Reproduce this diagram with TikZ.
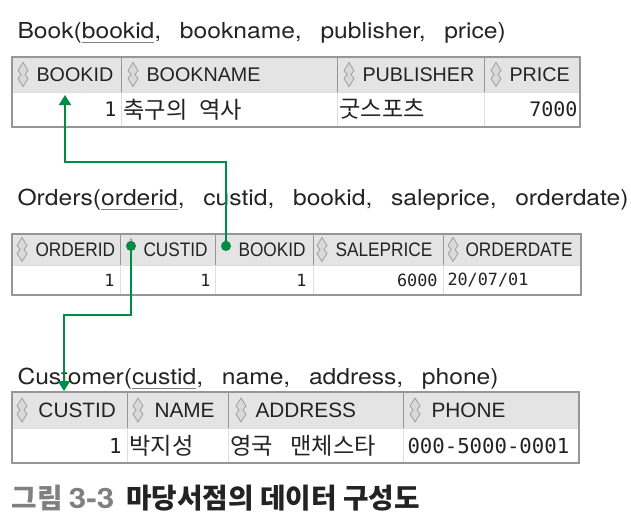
\documentclass[tikz,border=0pt]{standalone}
\usepackage{fontspec}
\setmainfont{TeX Gyre Heros}
\newfontfamily\ttlfont{TeX Gyre Heros}[FakeStretch=1.12]
\newfontfamily\colfont{Liberation Sans}
\newfontfamily\colcfont{Liberation Sans}[FakeStretch=0.88]
\newfontfamily\valfont{DejaVu Sans Mono}
\newfontfamily\korfont{Noto Sans CJK KR}
\usetikzlibrary{arrows.meta}

\definecolor{fkgreen}{RGB}{0,140,70}
\definecolor{hdrfill}{RGB}{228,228,228}
\definecolor{hdrline}{RGB}{150,150,150}
\definecolor{cellline}{RGB}{222,222,222}
\definecolor{txtdark}{RGB}{35,35,35}
\definecolor{capgray}{RGB}{128,128,128}

% gap after a comma in the relation titles
\newcommand{\csep}{,\hspace{14pt}}
% primary key, underlined
\newcommand{\pkey}[1]{\setbox0\hbox{#1}\rlap{\color{gray}\rule[-3.8pt]{\wd0}{0.9pt}}\box0}

\tikzset{every picture/.style={line width=0.75pt}}
\tikzset{
  hcell/.style={fill=hdrfill, draw=hdrline},
  dcell/.style={fill=white, draw=cellline},
  tblbox/.style={draw=hdrline, line width=1.1pt},
  ttl/.style={anchor=base west, inner sep=0pt, text=txtdark, font=\ttlfont\fontsize{16.5}{20}\selectfont},
  hbig/.style={anchor=west, inner sep=0.75pt, text=txtdark, font=\colfont\fontsize{14.8}{18}\selectfont},
  hbigc/.style={anchor=west, inner sep=0.75pt, text=txtdark, font=\colfont\fontsize{15.6}{18}\selectfont},
  hsmall/.style={anchor=west, inner sep=0.75pt, text=txtdark, font=\colcfont\fontsize{14.7}{18}\selectfont},
  vbig/.style={anchor=east, inner sep=0.75pt, text=txtdark, font=\valfont\fontsize{15}{18}\selectfont},
  vbigc/.style={anchor=west, inner sep=0.75pt, text=txtdark, font=\valfont\fontsize{15.5}{18}\selectfont},
  vsmall/.style={anchor=east, inner sep=0.75pt, text=txtdark, font=\valfont\fontsize{12.6}{15}\selectfont},
  kval/.style={anchor=west, inner sep=0.75pt, text=txtdark, font=\korfont\fontsize{17.4}{20}\selectfont},
  fk/.style={draw=fkgreen, line width=1.5pt},
  fkarrow/.style={fk, -{Triangle[width=9pt,length=7.5pt]}},
  fkdot/.style={circle, fill=fkgreen, inner sep=0pt, minimum size=7.5pt},
  sorticon/.pic={\path[fill=gray!30, draw=gray!75, line width=0.6pt] (0,-12) -- (5,-4) -- (2,0) -- (5,4) -- (0,12) -- (-5,4) -- (-2,0) -- (-5,-4) -- cycle;},
  sortdown/.pic={\path[fill=gray!30, draw=gray!75, line width=0.6pt] (-4,3) -- (4,3) -- (0,11) -- cycle;}
}

\begin{document}
\begin{tikzpicture}[x=0.75pt,y=0.75pt,yscale=-1,xscale=1]
	%set diagram left start at 0, and has height of 529
	\path[use as bounding box] (0,0) rectangle (631,529);
	
	% Text Node
	\draw (17,38.3) node (t-book) [ttl] {Book(\pkey{bookid}\csep bookname\csep publisher\csep price)};
	
	%Shape: Rectangle
	\draw[hcell] (12,57) rectangle (121,92);
	%Shape: Rectangle
	\draw[hcell] (121,57) rectangle (337,92);
	%Shape: Rectangle
	\draw[hcell] (337,57) rectangle (484,92);
	%Shape: Rectangle
	\draw[hcell] (484,57) rectangle (580,92);
	%Shape: Rectangle
	\draw[dcell] (12,92) rectangle (121,127);
	%Shape: Rectangle
	\draw[dcell] (121,92) rectangle (337,127);
	%Shape: Rectangle
	\draw[dcell] (337,92) rectangle (484,127);
	%Shape: Rectangle
	\draw[dcell] (484,92) rectangle (580,127);
	%Shape: Rectangle
	\draw[tblbox] (12,57) rectangle (580,127);
	
	\pic at (23,74.5) {sorticon};
	\pic at (133,74.5) {sorticon};
	\pic at (349,74.5) {sorticon};
	\pic at (496,74.5) {sorticon};
	% Text Node
	\draw (35,74.5) node (b-bookid) [hbig] {BOOKID};
	% Text Node
	\draw (145,74.5) node (b-bookname) [hbig] {BOOKNAME};
	% Text Node
	\draw (361,74.5) node (b-publisher) [hbig] {PUBLISHER};
	% Text Node
	\draw (508,74.5) node (b-price) [hbig] {PRICE};
	% Text Node
	\draw (118,109.5) node (b-v1) [vbig] {1};
	% Text Node
	\draw (122,109.5) node (b-v2) [kval] {축구의\hspace{5pt} 역사};
	% Text Node
	\draw (338,109.5) node (b-v3) [kval] {굿스포츠};
	% Text Node
	\draw (579,109.5) node (b-v4) [vbig] {7000};
	
	% Text Node
	\draw (17,205) node (t-orders) [ttl] {Orders(\pkey{orderid}\csep custid\csep bookid\csep saleprice\csep orderdate)};
	
	%Shape: Rectangle
	\draw[hcell] (12,234) rectangle (120,265);
	%Shape: Rectangle
	\draw[hcell] (120,234) rectangle (215,265);
	%Shape: Rectangle
	\draw[hcell] (215,234) rectangle (313,265);
	%Shape: Rectangle
	\draw[hcell] (313,234) rectangle (443,265);
	%Shape: Rectangle
	\draw[hcell] (443,234) rectangle (581,265);
	%Shape: Rectangle
	\draw[dcell] (12,265) rectangle (120,295);
	%Shape: Rectangle
	\draw[dcell] (120,265) rectangle (215,295);
	%Shape: Rectangle
	\draw[dcell] (215,265) rectangle (313,295);
	%Shape: Rectangle
	\draw[dcell] (313,265) rectangle (443,295);
	%Shape: Rectangle
	\draw[dcell] (443,265) rectangle (581,295);
	%Shape: Rectangle
	\draw[tblbox] (12,234) rectangle (581,295);
	
	\pic at (22,249.5) {sorticon};
	\pic at (131,249.5) {sortdown};
	\pic at (226,249.5) {sortdown};
	\pic at (322,249.5) {sorticon};
	\pic at (453,249.5) {sorticon};
	% Text Node
	\draw (34,249.5) node (o-orderid) [hsmall] {ORDERID};
	% Text Node
	\draw (142,249.5) node (o-custid) [hsmall] {CUSTID};
	% Text Node
	\draw (237,249.5) node (o-bookid) [hsmall] {BOOKID};
	% Text Node
	\draw (334,249.5) node (o-saleprice) [hsmall] {SALEPRICE};
	% Text Node
	\draw (464,249.5) node (o-orderdate) [hsmall] {ORDERDATE};
	% Text Node
	\draw (116,280) node (o-v1) [vsmall] {1};
	% Text Node
	\draw (212,280) node (o-v2) [vsmall] {1};
	% Text Node
	\draw (308,280) node (o-v3) [vsmall] {1};
	% Text Node
	\draw (439,280) node (o-v4) [vsmall] {6000};
	% Text Node
	\draw (446,280) node (o-v5) [vsmall, anchor=west] {20/07/01};
	
	% Text Node
	\draw (17,384) node (t-customer) [ttl] {Customer(\pkey{custid}\csep name\csep address\csep phone)};
	
	%Shape: Rectangle
	\draw[hcell] (12,392) rectangle (127,428);
	%Shape: Rectangle
	\draw[hcell] (127,392) rectangle (228,428);
	%Shape: Rectangle
	\draw[hcell] (228,392) rectangle (403,428);
	%Shape: Rectangle
	\draw[hcell] (403,392) rectangle (579,428);
	%Shape: Rectangle
	\draw[dcell] (12,428) rectangle (127,463);
	%Shape: Rectangle
	\draw[dcell] (127,428) rectangle (228,463);
	%Shape: Rectangle
	\draw[dcell] (228,428) rectangle (403,463);
	%Shape: Rectangle
	\draw[dcell] (403,428) rectangle (579,463);
	%Shape: Rectangle
	\draw[tblbox] (12,392) rectangle (579,463);
	
	\pic at (22,410) {sorticon};
	\pic at (138,410) {sorticon};
	\pic at (241,410) {sorticon};
	\pic at (415,410) {sorticon};
	% Text Node
	\draw (37,410) node (c-custid) [hbigc] {CUSTID};
	% Text Node
	\draw (153,410) node (c-name) [hbigc] {NAME};
	% Text Node
	\draw (254,410) node (c-address) [hbigc] {ADDRESS};
	% Text Node
	\draw (430,410) node (c-phone) [hbigc] {PHONE};
	% Text Node
	\draw (123,445.5) node (c-v1) [vbig, font=\valfont\fontsize{15.5}{18}\selectfont] {1};
	% Text Node
	\draw (128,445.5) node (c-v2) [kval] {박지성};
	% Text Node
	\draw (229,445.5) node (c-v3) [kval] {영국\hspace{9pt} 맨체스타};
	% Text Node
	\draw (406,445.5) node (c-v4) [vbigc] {000-5000-0001};
	
	%Foreign keys
	\node (o-bk-dot) [fkdot] at (226,246) {};
	\node (o-cs-dot) [fkdot] at (131,246) {};
	\coordinate (bk-turn) at (65,162);
	\coordinate (b-bookid-in) at (65,95);
	\coordinate (cs-turn) at (64,315);
	\coordinate (c-custid-in) at (64,391);
	%Straight Lines
	\draw[fkarrow] (o-bk-dot.center) |- (bk-turn) -- (b-bookid-in);
	%Straight Lines
	\draw[fkarrow] (o-cs-dot.center) |- (cs-turn) -- (c-custid-in);
	
	% Text Node
	\draw (11,498) node (caption) [anchor=west, inner sep=0pt, text=txtdark, font=\korfont\bfseries\fontsize{20.8}{24}\selectfont] {{\color{capgray}그림 {\ttlfont\bfseries\fontsize{21}{24}\selectfont 3-3}}\hspace{9pt}마당서점의 데이터 구성도};
	
\end{tikzpicture}
\end{document}
